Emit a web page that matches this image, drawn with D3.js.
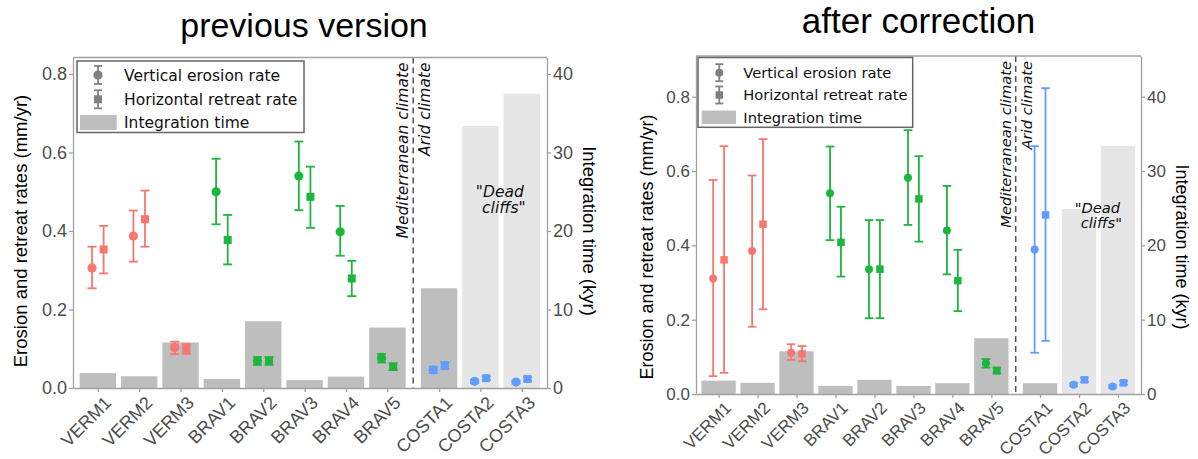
<!DOCTYPE html>
<html><head><meta charset="utf-8">
<script src="https://cdn.jsdelivr.net/npm/d3@7"></script>
<style>body{margin:0;background:#fff}</style></head>
<body><svg id="c" width="1198" height="459"></svg>
<script>
// ---------- data ----------
const categories = ["VERM1","VERM2","VERM3","BRAV1","BRAV2","BRAV3","BRAV4","BRAV5","COSTA1","COSTA2","COSTA3"];
const siteGroup  = ["VERM","VERM","VERM","BRAV","BRAV","BRAV","BRAV","BRAV","COSTA","COSTA","COSTA"];
const deadCliffs = ["COSTA2","COSTA3"];
const rateTicks = [0, 0.2, 0.4, 0.6, 0.8];
const timeTicks = [0, 10, 20, 30, 40];
const legendLabels = ["Vertical erosion rate","Horizontal retreat rate","Integration time"];
const panelTitles = ["previous version","after correction"];

// previous version
const prevVertical      = [0.306,0.387,0.103,0.500,0.069,0.540,0.398,0.076,0.046,0.017,0.015];
const prevVerticalLow   = [0.254,0.322,0.086,0.417,0.059,0.453,0.337,0.065,0.038,0.013,0.011];
const prevVerticalHigh  = [0.360,0.452,0.118,0.584,0.079,0.628,0.464,0.087,0.054,0.021,0.019];
const prevHorizontal    = [0.353,0.430,0.099,0.377,0.069,0.487,0.279,0.054,0.057,0.025,0.023];
const prevHorizontalLow = [0.292,0.360,0.087,0.315,0.059,0.408,0.234,0.046,0.048,0.020,0.018];
const prevHorizontalHigh= [0.413,0.503,0.112,0.441,0.079,0.564,0.324,0.063,0.066,0.030,0.028];
const prevTime          = [1.9,1.5,5.8,1.15,8.5,1.0,1.45,7.7,12.7,33.4,37.5];

// after correction
const corrVertical      = [0.311,0.385,0.111,0.540,0.336,0.582,0.440,0.083,0.389,0.025,0.020];
const corrVerticalLow   = [0.048,0.181,0.092,0.414,0.204,0.455,0.322,0.071,0.111,0.021,0.017];
const corrVerticalHigh  = [0.576,0.588,0.134,0.666,0.468,0.710,0.560,0.094,0.667,0.029,0.023];
const corrHorizontal    = [0.361,0.457,0.108,0.408,0.336,0.525,0.305,0.063,0.482,0.038,0.030];
const corrHorizontalLow = [0.057,0.228,0.088,0.316,0.204,0.410,0.223,0.055,0.143,0.032,0.025];
const corrHorizontalHigh= [0.667,0.686,0.129,0.504,0.468,0.640,0.388,0.071,0.823,0.044,0.035];
const corrTime          = [1.8,1.5,5.75,1.1,1.9,1.08,1.45,7.5,1.45,24.9,33.4];

// ---------- styling ----------
const groupColors = {VERM:"#F8766D", BRAV:"#1DB53C", COSTA:"#619CFF"};
const SANS = "'Liberation Sans', Arial, Helvetica, sans-serif";
const DV = "'DejaVu Sans', Verdana, sans-serif";
const svg = d3.select("#c");
svg.append("rect").attr("width",1198).attr("height",459).attr("fill","#fff");

function drawPanel(cfg, d) {
  const g = svg.append("g");
  const pos = i => i + (i >= 8 ? 0.25 : 0);
  const x = d3.scaleLinear().domain(cfg.xDomain).range([cfg.left, cfg.right]);
  const yR = d3.scaleLinear().domain([0, cfg.rateMax]).range([cfg.bottom, cfg.top]);
  const yT = d3.scaleLinear().domain([0, cfg.rateMax * 50]).range([cfg.bottom, cfg.top]);
  const bw = x(0.88) - x(0);

  // bars (integration time)
  g.selectAll("rect.bar").data(categories).join("rect").attr("class","bar")
    .attr("x", (c,i) => x(pos(i)) - bw/2).attr("width", bw)
    .attr("y", (c,i) => yT(d.time[i]))
    .attr("height", (c,i) => cfg.bottom - yT(d.time[i]))
    .attr("fill", c => deadCliffs.includes(c) ? "#e6e6e6" : "#bebebe");

  // climate divider
  const xd = x(7.625);
  g.append("line").attr("x1",xd).attr("x2",xd).attr("y1",cfg.top).attr("y2",cfg.bottom)
    .attr("stroke","#555").attr("stroke-width",1.5).attr("stroke-dasharray","6,4");
  g.append("text").attr("transform",`translate(${xd-5},${cfg.top+5}) rotate(-90)`)
    .attr("text-anchor","end").attr("font-family",DV).attr("font-style","italic")
    .attr("font-size",cfg.fs).attr("fill","#111").text("Mediterranean climate");
  g.append("text").attr("transform",`translate(${xd+cfg.aridDx},${cfg.top+5}) rotate(-90)`)
    .attr("text-anchor","end").attr("font-family",DV).attr("font-style","italic")
    .attr("font-size",cfg.fs).attr("fill","#111").text("Arid climate");

  // Dead cliffs
  const dc = g.append("text").attr("font-family",DV).attr("font-style","italic")
    .attr("font-size",cfg.fs).attr("fill","#111").attr("text-anchor","middle");
  dc.append("tspan").attr("x", x(9.72)).attr("y", yR(0.487)).text('"Dead');
  dc.append("tspan").attr("x", x(9.72)+4).attr("y", yR(0.487)+cfg.fs*1.05).text('cliffs"');

  // error bars + points
  const off = 0.14;
  const series = [
    {v:d.v, lo:d.vlo, hi:d.vhi, dx:-off, shape:"circle"},
    {v:d.h, lo:d.hlo, hi:d.hhi, dx: off, shape:"square"}
  ];
  series.forEach(s => {
    categories.forEach((c,i) => {
      const cx = x(pos(i) + s.dx);
      const col = groupColors[siteGroup[i]];
      const eg = g.append("g").attr("stroke",col).attr("stroke-width",1.8);
      eg.append("line").attr("x1",cx).attr("x2",cx).attr("y1",yR(s.lo[i])).attr("y2",yR(s.hi[i]));
      eg.append("line").attr("x1",cx-cfg.cap).attr("x2",cx+cfg.cap).attr("y1",yR(s.lo[i])).attr("y2",yR(s.lo[i]));
      eg.append("line").attr("x1",cx-cfg.cap).attr("x2",cx+cfg.cap).attr("y1",yR(s.hi[i])).attr("y2",yR(s.hi[i]));
      if (s.shape === "circle") {
        g.append("circle").attr("cx",cx).attr("cy",yR(s.v[i])).attr("r",cfg.r).attr("fill",col);
      } else {
        g.append("rect").attr("x",cx-cfg.sq/2).attr("y",yR(s.v[i])-cfg.sq/2)
          .attr("width",cfg.sq).attr("height",cfg.sq).attr("fill",col);
      }
    });
  });

  // axes
  const axCol = "#a0a0a0";
  const styleAxis = (sel, fs) => {
    sel.select(".domain").attr("stroke",axCol).attr("stroke-width",1.3);
    sel.selectAll(".tick line").attr("stroke",axCol).attr("stroke-width",1.3);
    sel.selectAll(".tick text").attr("fill","#4d4d4d").attr("font-family",SANS).attr("font-size",fs);
  };
  const xa = g.append("g").attr("transform",`translate(0,${cfg.bottom})`)
    .call(d3.axisBottom(x).tickValues(categories.map((c,i)=>pos(i)))
      .tickFormat((v,i)=>categories[i]).tickSize(4).tickSizeOuter(0));
  styleAxis(xa, cfg.tfs);
  xa.selectAll(".tick text").attr("text-anchor","end").attr("dy",null).attr("y",null)
    .attr("transform",`translate(${cfg.xlDx},${cfg.xlDy}) rotate(-45)`);

  const ya = g.append("g").attr("transform",`translate(${cfg.left},0)`)
    .call(d3.axisLeft(yR).tickValues(rateTicks).tickFormat(d3.format(".1f")).tickSize(4).tickPadding(2).tickSizeOuter(0));
  styleAxis(ya, cfg.tfs);
  const yb = g.append("g").attr("transform",`translate(${cfg.right},0)`)
    .call(d3.axisRight(yT).tickValues(timeTicks).tickSize(4).tickPadding(2).tickSizeOuter(0));
  styleAxis(yb, cfg.tfs);
  g.append("line").attr("x1",cfg.left).attr("x2",cfg.right).attr("y1",cfg.top).attr("y2",cfg.top)
    .attr("stroke",axCol).attr("stroke-width",1.3);

  // axis titles
  g.append("text").attr("transform",`translate(${cfg.lTitleX},${cfg.titleY}) rotate(-90)`)
    .attr("text-anchor","middle").attr("font-family",SANS).attr("font-size",cfg.afs).attr("fill","#000")
    .text("Erosion and retreat rates (mm/yr)");
  g.append("text").attr("transform",`translate(${cfg.rTitleX},${cfg.titleY}) rotate(90)`)
    .attr("text-anchor","middle").attr("font-family",SANS).attr("font-size",cfg.afs).attr("fill","#000")
    .text("Integration time (kyr)");

  // panel title
  g.append("text").attr("x",cfg.titleCx).attr("y",cfg.titleBase).attr("text-anchor","middle")
    .attr("font-family",SANS).attr("font-size",cfg.pfs).attr("fill","#000").text(cfg.title);

  // legend
  const L = cfg.legend;
  g.append("rect").attr("x",L.x0).attr("y",L.y0).attr("width",L.x1-L.x0).attr("height",L.y1-L.y0)
    .attr("fill","#fff").attr("stroke","#666").attr("stroke-width",1.5);
  const lg = "#808080";
  [0,1].forEach(k => {
    const cy = L.rows[k];
    const e = g.append("g").attr("stroke",lg).attr("stroke-width",1.8);
    e.append("line").attr("x1",L.ix).attr("x2",L.ix).attr("y1",cy-L.eh).attr("y2",cy+L.eh);
    e.append("line").attr("x1",L.ix-4).attr("x2",L.ix+4).attr("y1",cy-L.eh).attr("y2",cy-L.eh);
    e.append("line").attr("x1",L.ix-4).attr("x2",L.ix+4).attr("y1",cy+L.eh).attr("y2",cy+L.eh);
    if (k===0) g.append("circle").attr("cx",L.ix).attr("cy",cy).attr("r",cfg.r).attr("fill",lg);
    else g.append("rect").attr("x",L.ix-cfg.sq/2).attr("y",cy-cfg.sq/2).attr("width",cfg.sq).attr("height",cfg.sq).attr("fill",lg);
  });
  g.append("rect").attr("x",L.rx0).attr("width",L.rx1-L.rx0).attr("y",L.rows[2]-L.rh/2).attr("height",L.rh).attr("fill","#bebebe");
  legendLabels.forEach((t,k) => {
    g.append("text").attr("x",L.tx).attr("y",L.rows[k]).attr("dy","0.36em")
      .attr("font-family",DV).attr("font-size",cfg.fs).attr("fill","#111").text(t);
  });
}

drawPanel({
  left:73, right:547, top:57.5, bottom:388, rateMax:0.842, xDomain:[-0.6,10.86],
  fs:15.5, tfs:18, afs:18.5, pfs:34, cap:4.5, r:4.6, sq:8, aridDx:17,
  xlDx:14, xlDy:16, lTitleX:27, rTitleX:583, titleY:231,
  title:panelTitles[0], titleCx:304, titleBase:37,
  legend:{x0:77,y0:61,x1:304,y1:132.5, rows:[75,99.3,122.5], ix:98, eh:9, rx0:80, rx1:116.7, rh:15, tx:124}
}, {time:prevTime, v:prevVertical, vlo:prevVerticalLow, vhi:prevVerticalHigh,
    h:prevHorizontal, hlo:prevHorizontalLow, hhi:prevHorizontalHigh});

drawPanel({
  left:696, right:1141, top:56, bottom:394, rateMax:0.9096, xDomain:[-0.58,10.84],
  fs:14.7, tfs:17, afs:18, pfs:35, cap:4.3, r:4, sq:7.5, aridDx:16,
  xlDx:13, xlDy:15, lTitleX:653, rTitleX:1176, titleY:247,
  title:panelTitles[1], titleCx:918.5, titleBase:33,
  legend:{x0:698,y0:57.5,x1:912.7,y1:127.3, rows:[72.7,95,117.3], ix:719.3, eh:8.5, rx0:701.7, rx1:736, rh:13.5, tx:743.3}
}, {time:corrTime, v:corrVertical, vlo:corrVerticalLow, vhi:corrVerticalHigh,
    h:corrHorizontal, hlo:corrHorizontalLow, hhi:corrHorizontalHigh});
</script></body></html>
